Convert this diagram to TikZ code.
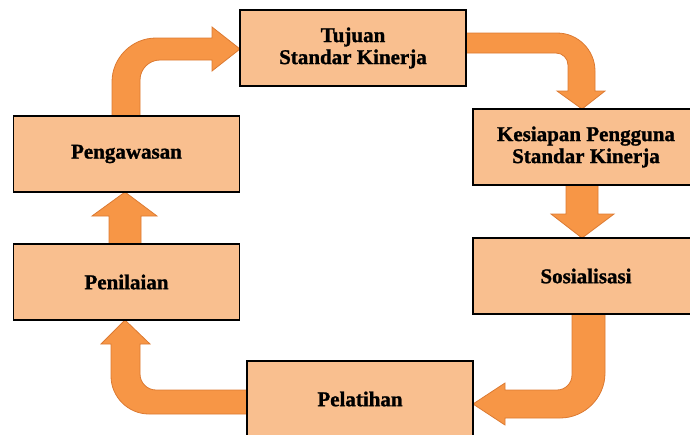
\documentclass[tikz,border=0pt]{standalone}
\usepackage{fontspec}
\setmainfont{Liberation Serif}[BoldFeatures={FakeBold=1.2}]
\usetikzlibrary{calc}
\pgfdeclarelayer{background}
\pgfsetlayers{background,main}
\definecolor{boxfill}{HTML}{F9BF8F}
\definecolor{arrowfill}{HTML}{F79646}
\definecolor{arrowedge}{HTML}{DC7A32}
\tikzset{
  box/.style={draw=black, line width=1.5pt, fill=boxfill, minimum width=226pt,
    minimum height=76pt, inner sep=0pt, outer sep=0pt, align=center,
    font=\bfseries\fontsize{21}{22}\selectfont},
  blockarrow/.style={fill=arrowfill, draw=arrowedge, line width=0.8pt, line join=miter}
}
\begin{document}
\begin{tikzpicture}[x=1pt,y=-1pt]
\useasboundingbox (0,0) rectangle (690,434);
\clip (0,0) rectangle (690,434);
\node[box] (tuj)  at (353,48)   {Tujuan\\Standar Kinerja};
\node[box] (kes)  at (586,147)  {Kesiapan Pengguna\\Standar Kinerja};
\node[box] (sos)  at (586,276)  {Sosialisasi};
\node[box] (pel)  at (360,399)  {Pelatihan};
\node[box] (pen)  at (126.5,282) {Penilaian};
\node[box] (peng) at (126.5,154) {Pengawasan};
\begin{pgfonlayer}{background}
% Pengawasan -> Tujuan
\filldraw[blockarrow] ($(peng.north)+(-14.5,0)$) -- (112,82)
  .. controls (112,57.8) and (131.8,38) .. (156,38) -- (212,38) -- (212,27)
  -- ($(tuj.west)+(0,1)$) -- (212,71) -- (212,60) -- (160,60)
  .. controls (149,60) and (140,69) .. (140,80) -- ($(peng.north)+(13.5,0)$) -- cycle;
% Tujuan -> Kesiapan
\filldraw[blockarrow] ($(tuj.east)+(0,-15)$) -- (557,33)
  .. controls (577.9,33) and (595,50.1) .. (595,71) -- (595,91) -- (605,91)
  -- ($(kes.north)+(-4,0)$) -- (557,91) -- (568,91) -- (568,65)
  .. controls (568,58.4) and (562.6,53) .. (556,53) -- ($(tuj.east)+(0,5)$) -- cycle;
% Kesiapan -> Sosialisasi
\filldraw[blockarrow] ($(kes.south)+(-20,0)$) -- (566,214) -- (551,214)
  -- ($(sos.north)+(-4,0)$) -- (614,214) -- (598,214) -- ($(kes.south)+(12,0)$) -- cycle;
% Sosialisasi -> Pelatihan
\filldraw[blockarrow] ($(sos.south)+(-14,0)$) -- (572,375)
  .. controls (572,383.25) and (565.25,390) .. (557,390) -- (505,390) -- (505,383)
  -- ($(pel.east)+(0,5)$) -- (505,425) -- (505,418) -- (560,418)
  .. controls (584.75,418) and (605,397.75) .. (605,373) -- ($(sos.south)+(19,0)$) -- cycle;
% Pelatihan -> Penilaian
\filldraw[blockarrow] ($(pel.west)+(0,-9)$) -- (156,390)
  .. controls (147.2,390) and (140,382.8) .. (140,374) -- (140,344) -- (150,344)
  -- ($(pen.south)+(-1.5,0)$) -- (101,344) -- (111,344) -- (111,376)
  .. controls (111,396.9) and (128.1,414) .. (149,414) -- ($(pel.west)+(0,15)$) -- cycle;
% Penilaian -> Pengawasan
\filldraw[blockarrow] ($(pen.north)+(-17.5,0)$) -- (109,216) -- (92,216)
  -- ($(peng.south)+(-1.5,0)$) -- (157,216) -- (141,216) -- ($(pen.north)+(14.5,0)$) -- cycle;
\end{pgfonlayer}
\end{tikzpicture}
\end{document}
